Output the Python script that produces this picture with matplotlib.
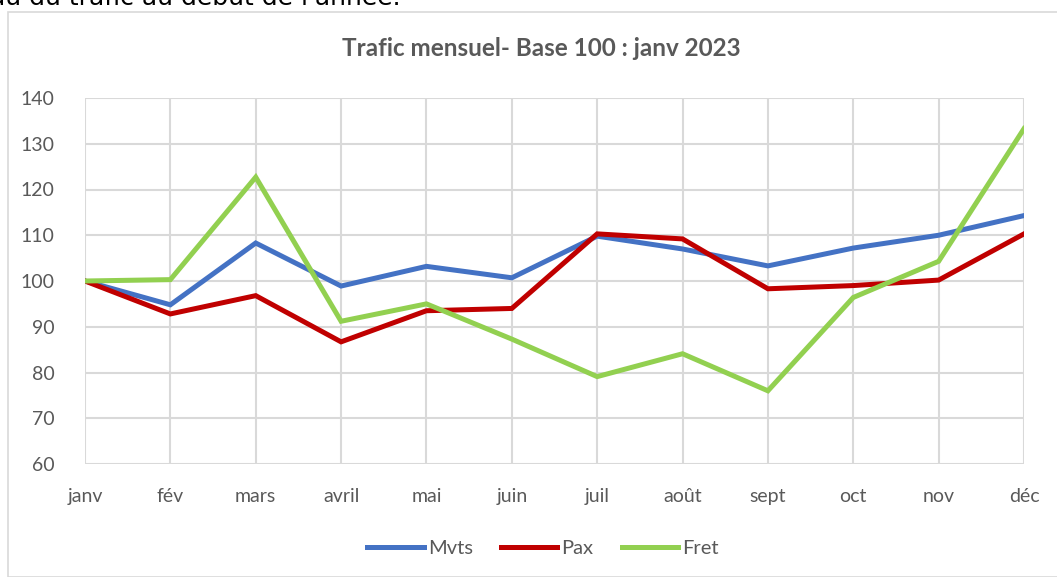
import matplotlib
matplotlib.use("Agg")
import matplotlib.pyplot as plt
from matplotlib.patches import Rectangle

months = ["janv", "fév", "mars", "avril", "mai", "juin", "juil", "août", "sept", "oct", "nov", "déc"]
mvts = [100, 94.8, 108.3, 98.9, 103.2, 100.7, 109.8, 107, 103.3, 107.2, 110, 114.3]
pax = [100, 92.8, 96.8, 86.7, 93.5, 94, 110.3, 109.2, 98.3, 99, 100.2, 110.3]
fret = [100, 100.3, 122.7, 91.2, 95, 87.3, 79.1, 84.1, 76, 96.4, 104.3, 133.3]

W, H = 1057, 577
fig = plt.figure(figsize=(W / 100, H / 100), dpi=100)
plt.rcParams['font.family'] = ['Lato', 'DejaVu Sans']
grey = "#595959"

# frame of the embedded chart
fig.patches.append(Rectangle((8 / W, 0), 1.1, 1 - 12 / H, transform=fig.transFigure,
                             fill=False, edgecolor="#D9D9D9", lw=1.2))
# line of document text above the chart, cut by the top edge
fig.text(-10 / W, 1 - 5 / H, "au du trafic au début de l'année.", family="DejaVu Sans",
         fontsize=18, color="black", va="baseline", ha="left")

ax = fig.add_axes([85 / W, 1 - 464 / H, (1024 - 85) / W, (464 - 98) / H])
x = range(len(months))
ax.plot(x, mvts, color="#4472C4", lw=3.6, label="Mvts", solid_joinstyle="miter")
ax.plot(x, pax, color="#C00000", lw=3.6, label="Pax", solid_joinstyle="miter")
ax.plot(x, fret, color="#92D050", lw=3.6, label="Fret", solid_joinstyle="miter")

ax.set_xlim(0, len(months) - 1)
ax.set_ylim(60, 140)
ax.set_yticks(range(60, 141, 10))
ax.set_xticks(list(x))
ax.set_xticklabels(months)
ax.grid(True, color="#D9D9D9", lw=1.5)
ax.set_axisbelow(True)
for s in ax.spines.values():
    s.set_visible(False)
ax.tick_params(length=0, labelsize=14, labelcolor=grey, pad=17)
ax.tick_params(axis="y", pad=22)

fig.text(541 / W, 1 - 48 / H, "Trafic mensuel- Base 100 : janv 2023", ha="center", va="center",
         fontsize=17.5, fontweight="bold", color=grey)

fig.legend(loc="center", bbox_to_anchor=(543 / W, 1 - 548 / H), ncol=3, frameon=False,
           fontsize=14.5, labelcolor=grey, handlelength=2.8, handletextpad=0.2, columnspacing=1.4)

fig.savefig("out.png", dpi=100)
